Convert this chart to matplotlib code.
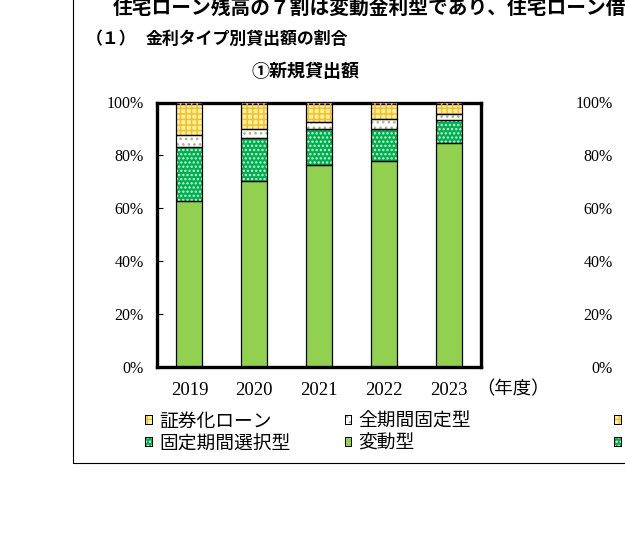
import matplotlib
matplotlib.use('Agg')
import matplotlib.pyplot as plt
from matplotlib.patches import Patch, Rectangle
import numpy as np

# ---- data ----
years = ['2019', '2020', '2021', '2022', '2023']
securitized = [12.4, 10.0, 7.2, 6.4, 4.3]      # 証券化ローン
full_fixed = [4.5, 3.3, 3.0, 3.8, 2.4]         # 全期間固定型
fixed_select = [20.2, 16.5, 13.5, 12.1, 8.7]   # 固定期間選択型
variable = [62.9, 70.2, 76.3, 77.8, 84.6]      # 変動型
series_labels = ['証券化ローン', '全期間固定型', '固定期間選択型', '変動型']
yticks = [0, 20, 40, 60, 80, 100]
ytick_labels = ['0%', '20%', '40%', '60%', '80%', '100%']

title_main = '住宅ローン残高の７割は変動金利型であり、住宅ローン借'
title_sub_num = '（１）'
title_sub = '金利タイプ別貸出額の割合'
panel_title = '①新規貸出額'
xunit = '（年度）'

plt.rcParams['hatch.linewidth'] = 1.1
JP = ['Noto Sans CJK JP', 'DejaVu Sans']
SERIF = ['Liberation Serif', 'DejaVu Serif']

W, H = 625, 536
fig = plt.figure(figsize=(W / 100, H / 100), dpi=100)

ax_l, ax_r, ax_t, ax_b = 157, 481, 102.5, 367
axw = (ax_r - ax_l) / W
axh = (ax_b - ax_t) / H
ax = fig.add_axes([ax_l / W, 1 - ax_b / H, axw, axh])
ax2 = fig.add_axes([(ax_l + 469) / W, 1 - ax_b / H, axw, axh])

styles = [
    # (values, face, hatch, hatchcolor)
    (variable, '#92D050', None, None),
    (fixed_select, '#00B050', '....', '#C8F5D8'),
    (full_fixed, '#FFFFFF', '...', '#A9B38F'),
    (securitized, '#FFF0A0', '+++', '#F2C02E'),
]

x = np.arange(len(years))
bw = 0.4
bottom = np.zeros(len(years))
handles = {}
for name, (vals, face, hatch, hcol) in zip(['variable', 'fixed_select', 'full_fixed', 'securitized'], styles):
    vals = np.array(vals)
    ax.bar(x, vals, bw, bottom=bottom, color=face, linewidth=0, zorder=2)
    if hatch:
        ax.bar(x, vals, bw, bottom=bottom, facecolor='none', edgecolor=hcol,
               hatch=hatch, linewidth=0, zorder=3)
    ax.bar(x, vals, bw, bottom=bottom, fill=False, edgecolor='black', linewidth=0.9, zorder=4)
    bottom = bottom + vals
    hs = [Patch(facecolor=face, edgecolor='black', linewidth=0.7)]
    if hatch:
        hs.append(Patch(facecolor='none', edgecolor=hcol, hatch=hatch, linewidth=0))
        hs.append(Patch(fill=False, edgecolor='black', linewidth=0.7))
    handles[name] = tuple(hs)

for a in (ax, ax2):
    a.set_xlim(-0.5, len(years) - 0.5)
    a.set_ylim(0, 100)
    a.set_yticks(yticks)
    a.set_yticklabels(ytick_labels, fontfamily=SERIF, fontsize=11.5)
    a.tick_params(axis='y', direction='in', length=4, width=0.8, pad=9.5)
    a.tick_params(axis='x', length=0, pad=10.5)
    for s in a.spines.values():
        s.set_linewidth(2.4)
        s.set_color('black')
ax2.spines['left'].set_visible(False)

ax.set_xticks(x)
ax.set_xticklabels(years, fontfamily=SERIF, fontsize=13.5)
ax2.set_xticks([])

ax.text(0.985, -0.083, xunit, transform=ax.transAxes, ha='left', va='center',
        fontfamily=JP, fontsize=13.2)

order = ['securitized', 'fixed_select', 'full_fixed', 'variable']
lab = {'securitized': series_labels[0], 'full_fixed': series_labels[1],
       'fixed_select': series_labels[2], 'variable': series_labels[3]}
for a in (ax, ax2):
    a.legend([handles[k] for k in order], [lab[k] for k in order],
             loc='upper left', bbox_to_anchor=(-0.037, -0.165), ncol=2,
             frameon=False, prop={'family': JP, 'size': 13.5},
             handlelength=0.37, handleheight=0.37, handletextpad=0.37,
             columnspacing=2.9, labelspacing=0.05, borderpad=0, borderaxespad=0)

fig.text(113 / W, 1 - 8 / H, title_main, ha='left', va='center', fontfamily=JP,
         fontsize=14.2, fontweight='bold')
fig.text(86 / W, 1 - 39 / H, title_sub_num, ha='left', va='center', fontfamily=JP,
         fontsize=12.2, fontweight='bold')
fig.text(146 / W, 1 - 39 / H, title_sub, ha='left', va='center', fontfamily=JP,
         fontsize=12.2, fontweight='bold')
fig.text(306 / W, 1 - 72 / H, panel_title, ha='center', va='center', fontfamily=JP,
         fontsize=13, fontweight='bold')

fig.add_artist(Rectangle((73 / W, 1 - 463 / H), 2, 2, transform=fig.transFigure,
                         fill=False, edgecolor='black', linewidth=0.8))

fig.savefig('out.png', dpi=100)
